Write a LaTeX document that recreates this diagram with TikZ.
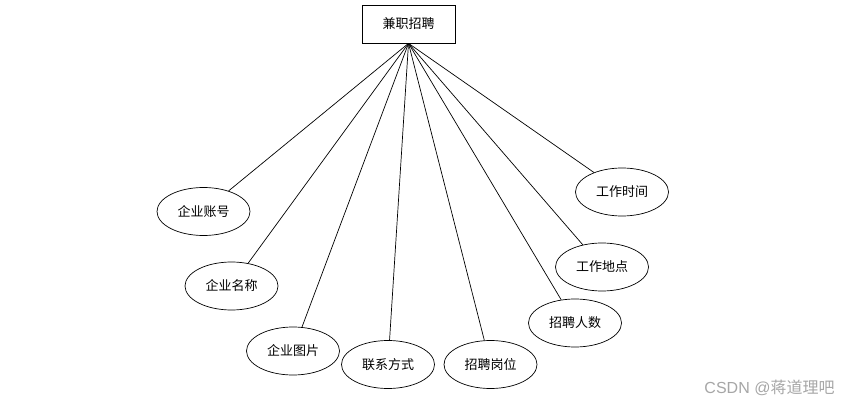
\documentclass[tikz,border=0pt]{standalone}
\usepackage{fontspec}
\setmainfont{Noto Sans CJK SC}
\newfontfamily\latinfont{Liberation Sans}
\usetikzlibrary{shapes.geometric}

\begin{document}
\begin{tikzpicture}[x=1pt,y=-1pt,line width=0.7pt,
    entity/.style={draw,rectangle,minimum width=93pt,minimum height=38pt,inner sep=0pt,font=\fontsize{13}{15}\selectfont},
    attr/.style={draw,ellipse,minimum width=93pt,minimum height=48pt,inner sep=0pt,font=\fontsize{13}{15}\selectfont}]
    \useasboundingbox (0,0) rectangle (851,406);

    % entity
    \node[entity] (job) at (408.5,24) {兼职招聘};

    % attributes
    \foreach \n/\x/\y/\t in {zh/203.5/211.5/企业账号,mc/231.5/286/企业名称,tp/293/351/企业图片,
        lx/388/364.5/联系方式,gw/490.5/364.5/招聘岗位,rs/575/323/招聘人数,
        dd/602/267/工作地点,sj/622/192/工作时间} {
        \node[attr] (\n) at (\x,\y) {\t};
        \draw (job.south) -- (\n);
      }

    % watermark
    \node[text=gray!70,font=\fontsize{16}{18}\selectfont] (wm) at (769.5,388) {{\latinfont CSDN @}蒋道理吧};
  \end{tikzpicture}
\end{document}
